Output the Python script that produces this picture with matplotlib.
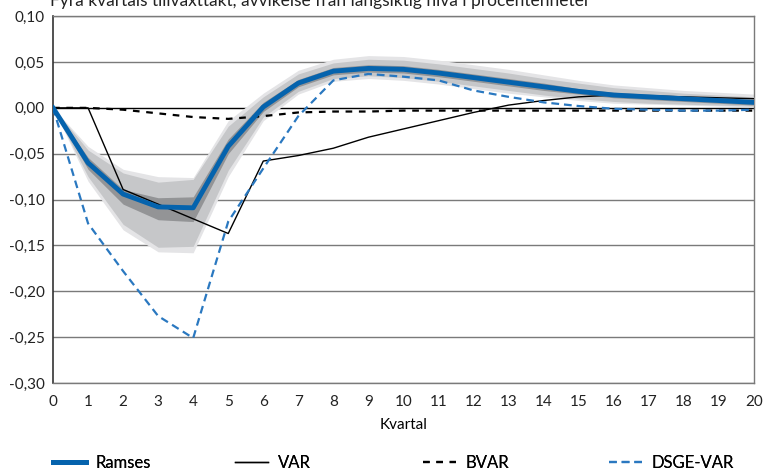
import numpy as np
import matplotlib.pyplot as plt
from matplotlib.lines import Line2D

plt.rcParams['font.family'] = ['Lato', 'DejaVu Sans']

quarters = list(range(21))

ramses = [0.0, -0.060, -0.094, -0.108, -0.109, -0.042, 0.001, 0.027, 0.040, 0.043,
          0.042, 0.038, 0.033, 0.028, 0.023, 0.018, 0.014, 0.012, 0.010, 0.008, 0.006]
# uncertainty bands (lower, upper) around Ramses
band_dark_lo = [0.0, -0.067, -0.105, -0.122, -0.124, -0.050, -0.004, 0.023, 0.036, 0.039,
                0.038, 0.034, 0.029, 0.024, 0.019, 0.015, 0.011, 0.009, 0.007, 0.005, 0.003]
band_dark_hi = [0.0, -0.054, -0.089, -0.098, -0.097, -0.034, 0.006, 0.031, 0.044, 0.047,
                0.046, 0.042, 0.037, 0.032, 0.027, 0.021, 0.017, 0.015, 0.013, 0.011, 0.009]
band_mid_lo = [0.0, -0.075, -0.127, -0.152, -0.151, -0.068, -0.010, 0.018, 0.032, 0.035,
               0.033, 0.029, 0.024, 0.019, 0.014, 0.010, 0.007, 0.005, 0.004, 0.003, 0.002]
band_mid_hi = [0.0, -0.046, -0.071, -0.081, -0.078, -0.020, 0.012, 0.037, 0.049, 0.053,
               0.052, 0.048, 0.043, 0.038, 0.032, 0.027, 0.022, 0.019, 0.016, 0.014, 0.012]
band_out_lo = [0.0, -0.080, -0.133, -0.157, -0.158, -0.075, -0.014, 0.015, 0.029, 0.032,
               0.030, 0.026, 0.021, 0.016, 0.012, 0.008, 0.005, 0.004, 0.003, 0.002, 0.001]
band_out_hi = [0.0, -0.042, -0.067, -0.075, -0.076, -0.014, 0.016, 0.041, 0.053, 0.057,
               0.056, 0.052, 0.047, 0.042, 0.036, 0.030, 0.025, 0.022, 0.019, 0.017, 0.015]

var = [0.0, 0.0, -0.089, -0.105, -0.121, -0.137, -0.058, -0.052, -0.044, -0.032,
       -0.023, -0.014, -0.005, 0.003, 0.008, 0.012, 0.014, 0.013, 0.012, 0.011, 0.010]
bvar = [0.0, 0.0, -0.002, -0.006, -0.010, -0.012, -0.009, -0.005, -0.004, -0.004,
        -0.003, -0.003, -0.003, -0.003, -0.003, -0.003, -0.003, -0.003, -0.003, -0.003, -0.003]
dsge_var = [0.0, -0.126, -0.178, -0.227, -0.251, -0.124, -0.066, -0.009, 0.030, 0.037,
            0.034, 0.030, 0.019, 0.012, 0.006, 0.002, -0.001, -0.002, -0.003, -0.003, -0.002]

yticks = [0.10, 0.05, 0.0, -0.05, -0.10, -0.15, -0.20, -0.25, -0.30]
labels = ['Ramses', 'VAR', 'BVAR', 'DSGE-VAR']

blue = '#0563ad'
blue2 = '#2a78c0'

fig = plt.figure(figsize=(7.63, 4.75), dpi=100)
ax = fig.add_axes([0.0695, 0.1937, 0.9185, 0.7723])

for y in yticks:
    if y == 0:
        continue
    ax.axhline(y, color='#7a7a7a', lw=1.0, zorder=1)
ax.axhline(0, color='black', lw=1.0, zorder=1)

ax.fill_between(quarters, band_out_lo, band_out_hi, color='#e4e4e6', lw=0, zorder=2)
ax.fill_between(quarters, band_mid_lo, band_mid_hi, color='#c6c7c9', lw=0, zorder=3)
ax.fill_between(quarters, band_dark_lo, band_dark_hi, color='#939496', lw=0, zorder=4)

ax.plot(quarters, var, color='black', lw=1.0, zorder=5)
ax.plot(quarters, bvar, color='black', lw=1.6, ls=(0, (3, 3)), zorder=5)
ax.plot(quarters, dsge_var, color=blue2, lw=1.6, ls=(0, (3.5, 2.2)), zorder=5)
ax.plot(quarters, ramses, color=blue, lw=3.5, zorder=6)

ax.set_xlim(0, 20)
ax.set_ylim(-0.30, 0.10)
ax.set_xticks(quarters)
ax.set_yticks(yticks)
ax.set_yticklabels([f'{v:.2f}'.replace('.', ',').replace('-0,00', '0,00') for v in yticks])
ax.tick_params(axis='both', length=0, labelsize=11, colors='#222222')
ax.tick_params(axis='x', pad=9)
ax.tick_params(axis='y', pad=6)
ax.set_xlabel('Kvartal', fontsize=11, labelpad=6)

for side in ['top', 'bottom', 'right']:
    ax.spines[side].set_color('#7a7a7a')
    ax.spines[side].set_linewidth(1.0)
ax.spines['left'].set_color('#333333')
ax.spines['left'].set_linewidth(1.2)

fig.text(0.066, 0.998, 'Fyra kvartals tillväxttakt, avvikelse från långsiktig nivå i procentenheter',
         fontsize=12.5, va='center', ha='left', color='#222222')

# legend entries spread evenly along the bottom
handles = [Line2D([], [], color=blue, lw=3.5),
           Line2D([], [], color='black', lw=1.0),
           Line2D([], [], color='black', lw=1.6, ls=(0, (3, 3))),
           Line2D([], [], color=blue2, lw=1.6, ls=(0, (3.5, 2.2)))]
x_pos = [0.0695, 0.308, 0.554, 0.798]
for h, lab, xp in zip(handles, labels, x_pos):
    lg = fig.legend([h], [lab], loc='center left', bbox_to_anchor=(xp, 0.025),
                    frameon=False, fontsize=12, handlelength=2.0, handletextpad=0.55,
                    borderaxespad=0, borderpad=0, handleheight=0.7)
    fig.add_artist(lg)

fig.savefig('out.png', dpi=100)
